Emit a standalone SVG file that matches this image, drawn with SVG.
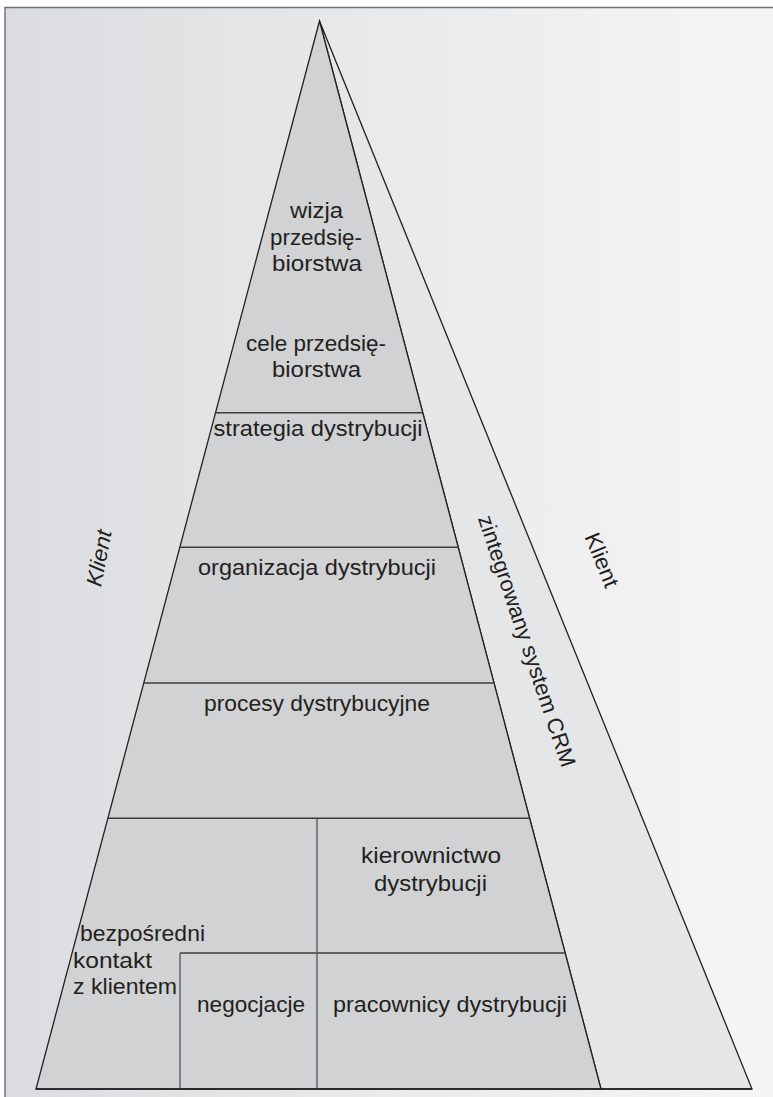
<svg xmlns="http://www.w3.org/2000/svg" width="773" height="1097" viewBox="0 0 773 1097">
  <defs>
    <linearGradient id="bg" x1="5" y1="0" x2="773" y2="0" gradientUnits="userSpaceOnUse">
      <stop offset="0" stop-color="#dbdcdf"/>
      <stop offset="0.5" stop-color="#e9eaeb"/>
      <stop offset="1" stop-color="#f5f5f6"/>
    </linearGradient>
  </defs>
  <style>
    .div { stroke: #3c3b3d; stroke-width: 1.6; }
    .vdiv { stroke: #55545a; stroke-width: 1.3; }
    .lbl { font-family: "Liberation Sans", Arial, sans-serif; font-size: 22px; fill: #231f20; }
    .mid { text-anchor: middle; }
  </style>
  <rect x="0" y="0" width="773" height="1097" fill="#ffffff"/>
  <rect x="5" y="7" width="768" height="1090" fill="url(#bg)"/>
  <path d="M5,1097 V7.5 H773" fill="none" stroke="#6d6e70" stroke-width="1.4"/>

  <g id="crm-band">
    <polygon points="319.5,21 601,1089 752,1089" fill="#e5e6e7" stroke="#231f20" stroke-width="1.3"/>
    <text class="lbl mid" transform="translate(527,641) rotate(71.4)" dominant-baseline="central" textLength="264" lengthAdjust="spacingAndGlyphs">zintegrowany system CRM</text>
  </g>

  <g id="pyramid">
    <polygon points="319.5,21 36,1089 601,1089" fill="#d1d2d4" stroke="#231f20" stroke-width="1.3"/>
  </g>

  <g id="connectors">
    <line class="div" x1="215.5" y1="412.7" x2="422.8" y2="412.7"/>
    <line class="div" x1="179.8" y1="547.3" x2="458.2" y2="547.3"/>
    <line class="div" x1="143.9" y1="683" x2="493.9" y2="683"/>
    <line class="div" x1="107.8" y1="818.3" x2="529.7" y2="818.3"/>
    <line class="div" x1="180" y1="953" x2="565.2" y2="953"/>
    <line class="vdiv" x1="317" y1="818.3" x2="317" y2="1089"/>
    <line class="vdiv" x1="180" y1="953" x2="180" y2="1089"/>
    <line x1="36" y1="1089" x2="752" y2="1089" stroke="#231f20" stroke-width="1.5"/>
  </g>

  <g id="wizja">
    <text class="lbl mid" x="316.5" y="218" textLength="53" lengthAdjust="spacingAndGlyphs">wizja</text>
    <text class="lbl mid" x="316" y="245" textLength="92" lengthAdjust="spacingAndGlyphs">przedsię-</text>
    <text class="lbl mid" x="317" y="271" textLength="90" lengthAdjust="spacingAndGlyphs">biorstwa</text>
  </g>
  <g id="cele">
    <text class="lbl mid" x="316" y="351" textLength="140" lengthAdjust="spacingAndGlyphs">cele przedsię-</text>
    <text class="lbl mid" x="316.5" y="377" textLength="89" lengthAdjust="spacingAndGlyphs">biorstwa</text>
  </g>
  <g id="strategia">
    <text class="lbl mid" x="318" y="436" textLength="209" lengthAdjust="spacingAndGlyphs">strategia dystrybucji</text>
  </g>
  <g id="organizacja">
    <text class="lbl mid" x="317" y="575" textLength="238" lengthAdjust="spacingAndGlyphs">organizacja dystrybucji</text>
  </g>
  <g id="procesy">
    <text class="lbl mid" x="317" y="711" textLength="226" lengthAdjust="spacingAndGlyphs">procesy dystrybucyjne</text>
  </g>
  <g id="kierownictwo">
    <text class="lbl mid" x="431" y="863" textLength="140" lengthAdjust="spacingAndGlyphs">kierownictwo</text>
    <text class="lbl mid" x="430.5" y="891" textLength="113" lengthAdjust="spacingAndGlyphs">dystrybucji</text>
  </g>
  <g id="kontakt">
    <text class="lbl" x="80" y="941" textLength="125" lengthAdjust="spacingAndGlyphs">bezpośredni</text>
    <text class="lbl" x="73" y="968" textLength="79" lengthAdjust="spacingAndGlyphs">kontakt</text>
    <text class="lbl" x="73" y="994" textLength="104" lengthAdjust="spacingAndGlyphs">z klientem</text>
  </g>
  <g id="negocjacje">
    <text class="lbl mid" x="251" y="1012" textLength="108" lengthAdjust="spacingAndGlyphs">negocjacje</text>
  </g>
  <g id="pracownicy">
    <text class="lbl mid" x="450" y="1012" textLength="234" lengthAdjust="spacingAndGlyphs">pracownicy dystrybucji</text>
  </g>
  <g id="klient-left">
    <text class="lbl mid" font-style="italic" transform="translate(99,558) rotate(-79)" dominant-baseline="central" textLength="57" lengthAdjust="spacingAndGlyphs">Klient</text>
  </g>
  <g id="klient-right">
    <text class="lbl mid" transform="translate(602,560) rotate(68)" dominant-baseline="central" textLength="57" lengthAdjust="spacingAndGlyphs">Klient</text>
  </g>
</svg>
